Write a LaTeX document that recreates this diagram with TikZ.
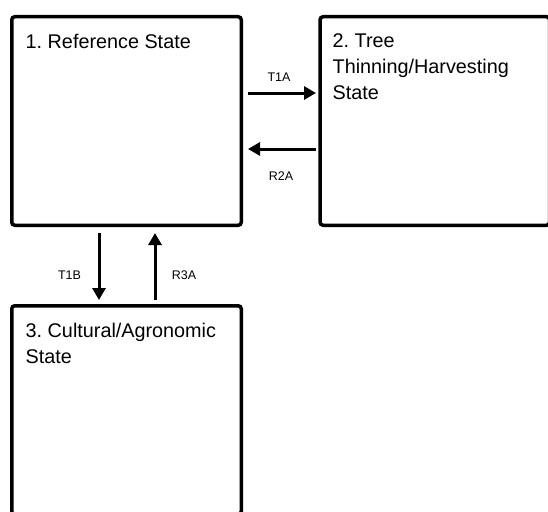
\documentclass[tikz,border=0pt]{standalone}
\usepackage{fontspec}
\setmainfont{Liberation Sans}
\usetikzlibrary{arrows.meta}
\tikzstyle{state}=[draw, line width=3.5pt, rounded corners=3pt, minimum width=229.5pt, minimum height=208.5pt, inner sep=0pt]
\tikzstyle{title}=[anchor=north west, align=left, inner sep=0pt, font=\fontsize{19.8}{26}\selectfont]
\tikzstyle{trans}=[line width=3pt, -{Triangle[length=12pt, width=13pt]}]
\tikzstyle{tlabel}=[inner sep=0pt, font=\fontsize{12.5}{14}\selectfont]

\begin{document}
\frenchspacing
\begin{tikzpicture}[x=1pt, y=-1pt]
        \useasboundingbox (0,0) rectangle (548,511);
        \clip (0,0) rectangle (548,511);
        \node[state] (S1) at (126.5, 121) {};
        \node[state] (S2) at (434.8, 121) {};
        \node[state] (S3) at (126.5, 410) {};
        \node[title] (S1txt) at (25.5, 33.5) {1. Reference State};
        \node[title] (S2txt) at (332.5, 33) {2. Tree\\Thinning/Harvesting\\State};
        \node[title] (S3txt) at (25.5, 323) {3. Cultural/Agronomic\\State};
        \draw[trans, shorten <=5pt, shorten >=2.3pt] ([yshift=28pt]S1.east) -- ([yshift=28pt]S2.west);
        \draw[trans, shorten <=2.3pt, shorten >=5pt] ([yshift=-28pt]S2.west) -- ([yshift=-28pt]S1.east);
        \draw[trans, shorten <=6pt, shorten >=4pt] ([xshift=-27.5pt]S1.south) -- ([xshift=-27.5pt]S1.south |- S3.north);
        \draw[trans, shorten <=4pt, shorten >=6pt] ([xshift=28.5pt]S1.south |- S3.north) -- ([xshift=28.5pt]S1.south);
        \node[tlabel] (T1A) at (279, 77) {T1A};
        \node[tlabel] (R2A) at (281, 176.5) {R2A};
        \node[tlabel] (T1B) at (69.5, 275) {T1B};
        \node[tlabel] (R3A) at (184, 275) {R3A};
    \end{tikzpicture}
\end{document}
